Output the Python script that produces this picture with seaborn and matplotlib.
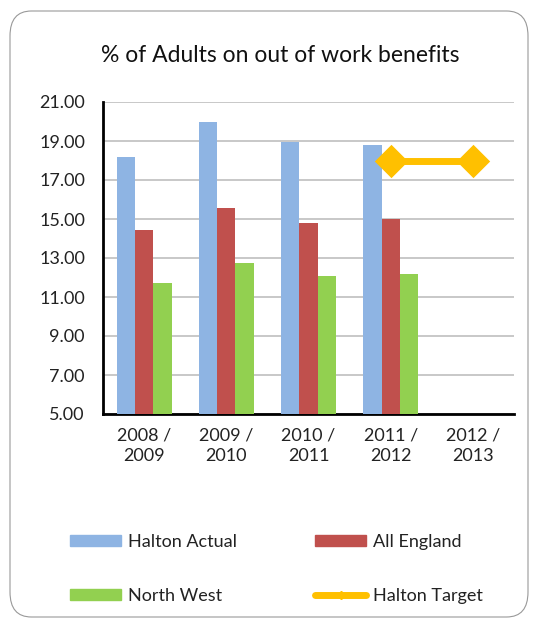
import numpy as np
import pandas as pd
import matplotlib
matplotlib.use('Agg')
import matplotlib.pyplot as plt
from matplotlib.patches import Patch, FancyBboxPatch
from matplotlib.lines import Line2D
import seaborn as sns

# =========== DATA =============
periods = ['2008 /\n2009', '2009 /\n2010', '2010 /\n2011', '2011 /\n2012', '2012 /\n2013']
halton_actual = [18.2, 20.0, 18.95, 18.8, np.nan]
all_england = [14.45, 15.58, 14.8, 15.0, np.nan]
north_west = [11.73, 12.72, 12.1, 12.2, np.nan]
halton_target = [np.nan, np.nan, np.nan, 18.0, 18.0]

series_names = ['Halton Actual', 'All England', 'North West']
series_colors = ['#8EB4E3', '#C0504D', '#92D050']
target_color = '#FFC000'

# long table for seaborn
bars = pd.DataFrame({
    'period': periods * 3,
    'series': [s for s in series_names for _ in periods],
    'value': halton_actual + all_england + north_west,
})
target = pd.DataFrame({'period': periods, 'value': halton_target})

# =========== PLOT =============
sns.set_style('white')
plt.rcParams['font.family'] = ['Lato', 'DejaVu Sans']

fig = plt.figure(figsize=(5.34, 6.25), dpi=100)
ax = fig.add_axes([103 / 534, 1 - 414 / 625, 411 / 534, 312 / 625])

sns.barplot(data=bars, x='period', y='value', hue='series', order=periods,
            hue_order=series_names, palette=series_colors, width=0.667,
            gap=0, errorbar=None, saturation=1, ax=ax, legend=False,
            linewidth=0, edgecolor='none', zorder=3)

sns.pointplot(data=target, x='period', y='value', order=periods,
              color=target_color, markers='D', markersize=13, linewidth=5,
              errorbar=None, ax=ax, zorder=4)

ax.set_xlim(-0.5, len(periods) - 0.5)
ax.set_ylim(5, 21)
ax.set_yticks(np.arange(5, 22, 2))
ax.set_yticklabels([f'{v:.2f}' for v in np.arange(5, 22, 2)], fontsize=13, color='#222222')
ax.set_xticks(np.arange(len(periods)))
ax.set_xticklabels(periods, fontsize=13, color='#222222', linespacing=1.35)
ax.set_xticks(np.arange(len(periods) + 1) - 0.5, minor=True)
ax.tick_params(axis='x', which='major', length=0, pad=10)
ax.tick_params(axis='x', which='minor', direction='inout', length=11, width=2, color='black')
ax.tick_params(axis='y', direction='out', length=5, width=2, color='black', pad=8)

ax.set_xlabel('')
ax.set_ylabel('')
ax.grid(axis='y', color='#BFBFBF', linewidth=1.2, zorder=0)
ax.set_axisbelow(True)
for side in ['top', 'right']:
    ax.spines[side].set_visible(False)
for side in ['left', 'bottom']:
    ax.spines[side].set_color('black')
    ax.spines[side].set_linewidth(2)

fig.text(280 / 534, 1 - 55 / 625, '% of Adults on out of work benefits',
         ha='center', va='center', fontsize=16.5, color='#111111')

# legend, laid out row by row
handles = [
    Patch(color=series_colors[0]),
    Patch(color=series_colors[2]),
    Patch(color=series_colors[1]),
    Line2D([], [], color=target_color, linewidth=5, marker='D', markersize=4),
]
labels = ['Halton Actual', 'North West', 'All England', 'Halton Target']
fig.legend(handles, labels, loc='center left', bbox_to_anchor=(61 / 534, 1 - 569 / 625),
           ncol=2, frameon=False, fontsize=13, handlelength=2.8, handleheight=0.6,
           handletextpad=0.4, columnspacing=4.35, labelspacing=2.1, borderpad=0,
           labelcolor='#222222')

# rounded chart border
border = FancyBboxPatch((10 / 534, 8 / 625), 518 / 534, 606 / 625,
                        boxstyle='round,pad=0,rounding_size=0.04',
                        transform=fig.transFigure, fill=False,
                        edgecolor='#999999', linewidth=0.8)
fig.patches.append(border)

fig.savefig('out.png', dpi=100)
